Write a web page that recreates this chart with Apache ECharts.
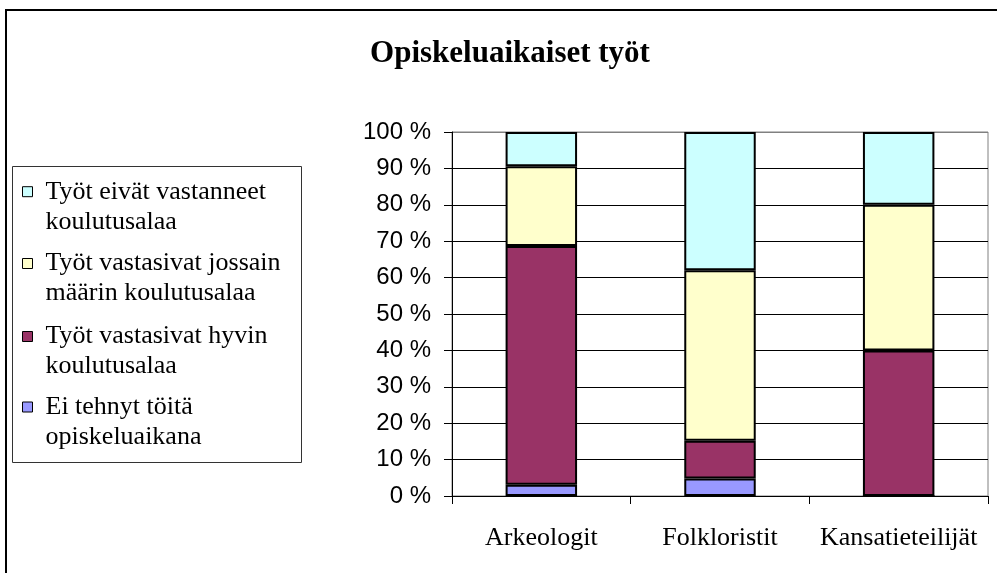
<!DOCTYPE html>
<html>
<head>
<meta charset="utf-8">
<script src="https://cdn.jsdelivr.net/npm/echarts@6/dist/echarts.min.js"></script>
<style>html,body{margin:0;padding:0;background:#fff}#c{width:997px;height:573px}</style>
</head>
<body>
<div id="c"></div>
<script>
const titleText = 'Opiskeluaikaiset työt';
const categories = ['Arkeologit', 'Folkloristit', 'Kansatieteilijät'];
const seriesNames = [
  'Ei tehnyt töitä\nopiskeluaikana',
  'Työt vastasivat hyvin\nkoulutusalaa',
  'Työt vastasivat jossain\nmäärin koulutusalaa',
  'Työt eivät vastanneet\nkoulutusalaa'
];
const eiTehnyt = [3.1, 4.8, 0];
const hyvin = [65.6, 10.4, 40];
const jossain = [21.9, 46.8, 40];
const eivat = [9.4, 38.0, 20];
const yTicks = [0, 10, 20, 30, 40, 50, 60, 70, 80, 90, 100];
const colors = ['#9999FF', '#993366', '#FFFFCC', '#CCFFFF'];

const values = [eiTehnyt, hyvin, jossain, eivat];
const serif = 'Liberation Serif';

const chart = echarts.init(document.getElementById('c'));

// legend order top-to-bottom: cyan, yellow, maroon, blue
const legendOrder = [3, 2, 1, 0];
const legendCenters = [191.7, 263.5, 336.5, 407];

const legends = legendOrder.map((si, k) => ({
  data: [seriesNames[si]],
  left: 22,
  top: legendCenters[k] - 45,
  padding: 0,
  itemWidth: 10,
  itemHeight: 10,
  icon: 'rect',
  itemStyle: { borderColor: '#000', borderWidth: 1 },
  formatter: name => '\n' + name,
  textStyle: {
    fontFamily: serif,
    fontSize: 26,
    color: '#000',
    lineHeight: 30,
    padding: [0, 0, 0, 8]
  },
  selectedMode: false
}));

chart.setOption({
  animation: false,
  backgroundColor: '#fff',
  title: {
    text: titleText,
    left: 505,
    top: 33,
    textAlign: 'center',
    textStyle: { fontFamily: serif, fontSize: 31, fontWeight: 'bold', color: '#000' }
  },
  legend: legends,
  graphic: [
    { type: 'rect', shape: { x: 6, y: 10, width: 1100, height: 700 }, style: { fill: null, stroke: '#000', lineWidth: 2 }, silent: true },
    { type: 'rect', shape: { x: 12.5, y: 166.5, width: 289, height: 296 }, style: { fill: null, stroke: '#333', lineWidth: 1 }, silent: true }
  ],
  grid: {
    left: 452, top: 132, right: 9, bottom: 77,
    show: true, borderColor: '#808080', borderWidth: 1, backgroundColor: '#fff'
  },
  xAxis: {
    type: 'category',
    data: categories,
    axisLine: { lineStyle: { color: '#000', width: 1 } },
    axisTick: { show: true, length: 8, lineStyle: { color: '#000' } },
    axisLabel: { fontFamily: serif, fontSize: 26, color: '#000', margin: 29, interval: 0, hideOverlap: false }
  },
  yAxis: {
    type: 'value',
    min: 0, max: 100, interval: 10,
    axisLine: { show: true, lineStyle: { color: '#000', width: 1 } },
    axisTick: { show: true, length: 8, lineStyle: { color: '#000' } },
    axisLabel: {
      fontFamily: 'Liberation Sans', fontSize: 24, color: '#000', margin: 21,
      formatter: v => yTicks.includes(v) ? v + ' %' : ''
    },
    splitLine: { show: true, lineStyle: { color: ['#000','#000','#000','#000','#000','#000','#000','#000','#000','#000','#808080'], width: 1 } }
  },
  series: values.map((vals, i) => ({
    name: seriesNames[i],
    type: 'bar',
    stack: 'total',
    barWidth: '40%',
    data: vals,
    itemStyle: { color: colors[i], borderColor: '#000', borderWidth: 2 }
  }))
});
</script>
</body>
</html>
